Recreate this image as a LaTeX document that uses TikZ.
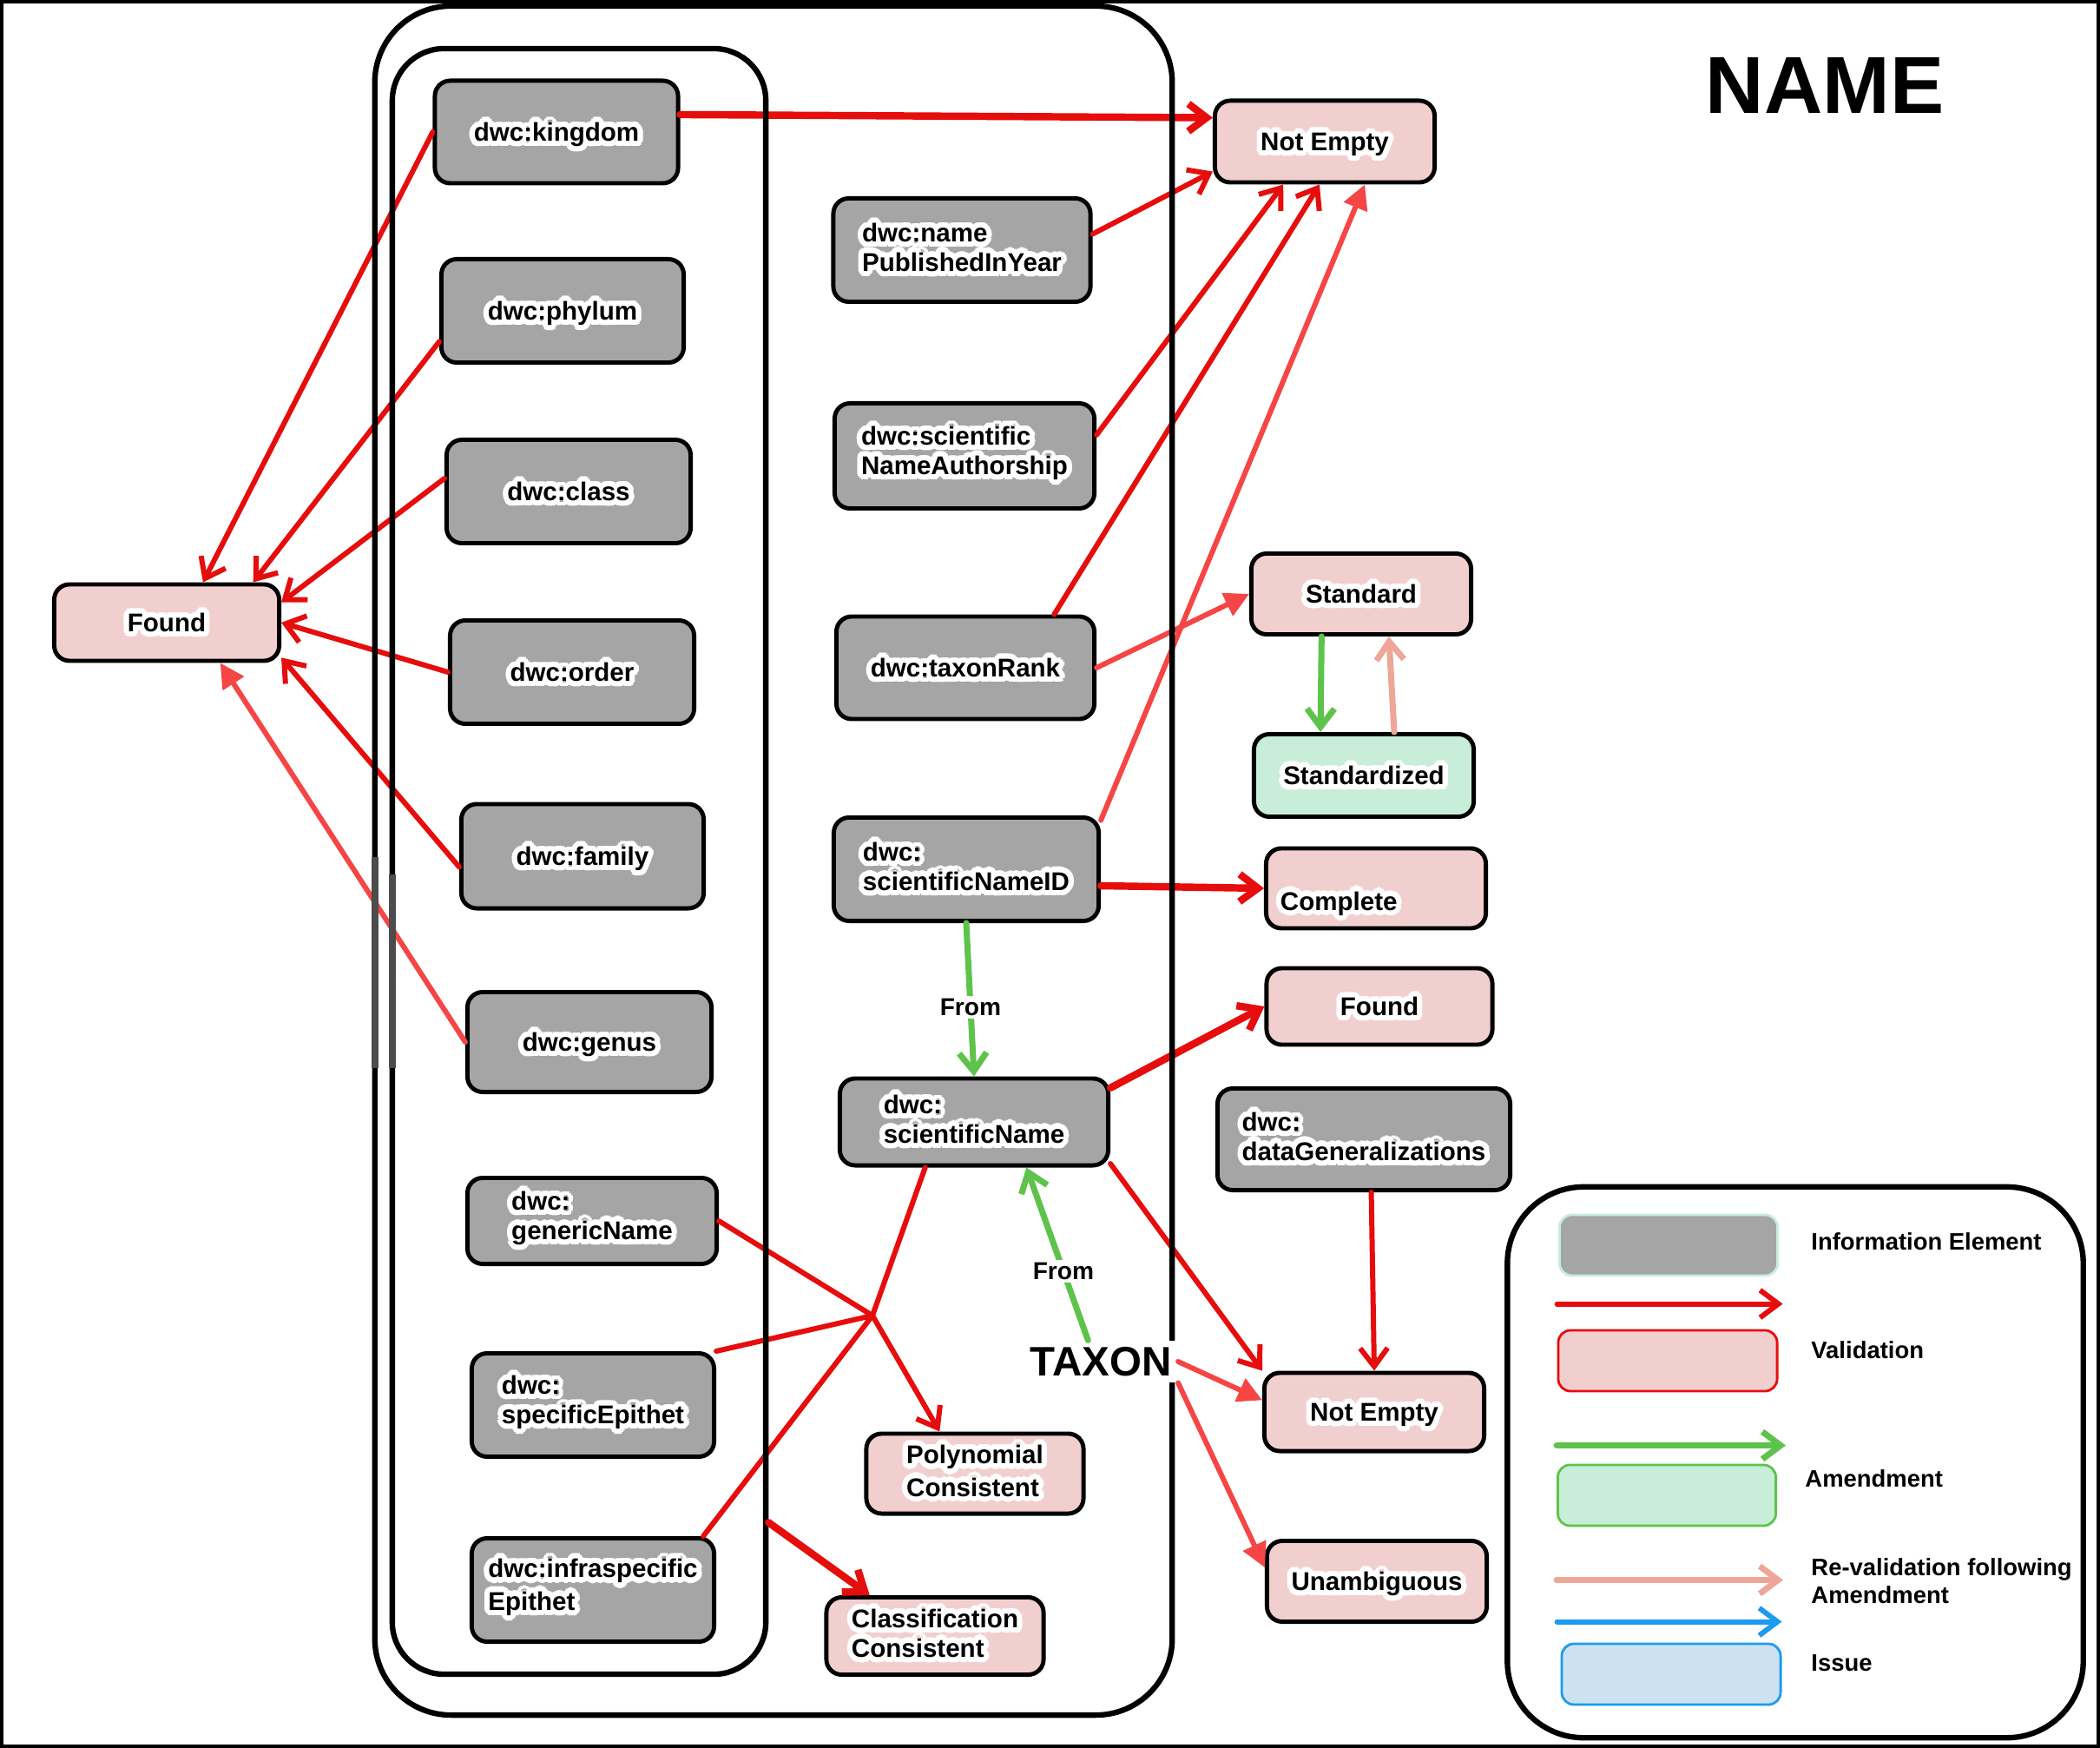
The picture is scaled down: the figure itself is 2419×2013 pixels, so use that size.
\documentclass[tikz,border=0pt]{standalone}
\usepackage{fontspec}
\setmainfont{Liberation Sans}
\usepackage{xcolor}
\definecolor{ieGrey}{HTML}{A5A5A5}
\definecolor{valPink}{HTML}{F2CFCF}
\definecolor{amdGreen}{HTML}{C8EDD9}
\definecolor{issBlue}{HTML}{CDE2F1}
\definecolor{valRed}{HTML}{E60D0D}
\definecolor{valLight}{HTML}{F54545}
\definecolor{amdLine}{HTML}{5EC34B}
\definecolor{revLine}{HTML}{EEA698}
\definecolor{issLine}{HTML}{1C9BEF}
\usepackage{contour}
\contourlength{1.8pt}
\usepackage{tikz}
\usetikzlibrary{arrows.meta}
\newcommand{\halo}[1]{\contour{white}{#1}}
\newcommand{\boxfont}{\fontsize{8.4}{9.6}\selectfont\bfseries}

\begin{document}
\begin{tikzpicture}[x=0.01cm, y=-0.01cm, >={Straight Barb[length=6pt,width=9pt]}, line cap=round,
    wh/.style 2 args={minimum width=#1cm, minimum height=#2cm},
    box/.style={draw, line width=1.4pt, rounded corners=5pt, font=\boxfont, align=left, inner sep=2pt},
    one/.style={text height=8pt, text depth=2pt},
    ie/.style={box, fill=ieGrey},
    val/.style={box, fill=valPink},
    amd/.style={box, fill=amdGreen},
    grp/.style={draw, line width=1.8pt, inner sep=0pt},
    vline/.style={->, valRed, line width=1.7pt},
    vthick/.style={vline, line width=2.4pt},
    vlight/.style={-{Triangle[length=8pt,width=8pt]}, valLight, line width=1.7pt},
    aline/.style={->, amdLine, line width=2pt},
    rline/.style={->, revLine, line width=2pt},
    iline/.style={->, issLine, line width=1.7pt},
    legbox/.style={draw, line width=0.8pt, rounded corners=4pt},
    legtxt/.style={anchor=west, font=\fontsize{7.8}{9.2}\selectfont\bfseries, align=left},
    fromlbl/.style={fill=white, text=black, inner sep=1pt, font=\fontsize{8}{9}\selectfont\bfseries}]
  \useasboundingbox (0,0) rectangle (2419,2013);
  \draw[line width=1.2pt] (2,2) rectangle (2417,2011);
  \node[font=\fontsize{26.5}{30}\selectfont\bfseries] (title) at (2102,98) {NAME};

  % ---- information elements ----
  \node[ie, one, wh={2.80}{1.18}] (kingdom) at (641,152) {\halo{dwc:kingdom}};
  \node[ie, one, wh={2.79}{1.19}] (phylum) at (648,358) {\halo{dwc:phylum}};
  \node[ie, one, wh={2.81}{1.19}] (class) at (655,566) {\halo{dwc:class}};
  \node[ie, one, wh={2.81}{1.19}] (order) at (659,774) {\halo{dwc:order}};
  \node[ie, one, wh={2.79}{1.20}] (family) at (671,986) {\halo{dwc:family}};
  \node[ie, one, wh={2.81}{1.15}] (genus) at (679,1200) {\halo{dwc:genus}};
  \node[ie, wh={2.87}{0.99}] (generic) at (682,1406) {\halo{dwc:}\\\halo{genericName}};
  \node[ie, wh={2.79}{1.19}] (specific) at (683,1618) {\halo{dwc:}\\\halo{specificEpithet}};
  \node[ie, wh={2.79}{1.19}] (infra) at (683,1831) {\halo{dwc:infraspecific}\\\halo{Epithet}};
  \node[ie, wh={2.96}{1.19}] (pubyear) at (1108,288) {\halo{dwc:name}\\\halo{PublishedInYear}};
  \node[ie, wh={2.99}{1.21}] (authorship) at (1111,525) {\halo{dwc:scientific}\\\halo{NameAuthorship}};
  \node[ie, one, wh={2.97}{1.18}] (rank) at (1112,769) {\halo{dwc:taxonRank}};
  \node[ie, wh={3.05}{1.19}] (nameid) at (1113,1001) {\halo{dwc:}\\\halo{scientificNameID}};
  \node[ie, wh={3.09}{1.00}] (sciname) at (1122,1292) {\halo{dwc:}\\\halo{scientificName}};
  \node[ie, wh={3.37}{1.17}] (datagen) at (1571,1312) {\halo{dwc:}\\\halo{dataGeneralizations}};

  % ---- validations / amendments ----
  \node[val, one, wh={2.59}{0.88}] (foundL) at (192,717) {\halo{Found}};
  \node[val, one, wh={2.53}{0.94}] (emptyA) at (1526,163) {\halo{Not Empty}};
  \node[val, one, wh={2.53}{0.93}] (standard) at (1568,684) {\halo{Standard}};
  \node[amd, one, wh={2.53}{0.95}] (standardized) at (1571,893) {\halo{Standardized}};
  \node[val, wh={2.53}{0.92}, text width=2.2cm, text height=0.6cm, text depth=0.1cm] (complete) at (1585,1023) {\halo{Complete}};
  \node[val, one, wh={2.60}{0.88}] (foundR) at (1589,1159) {\halo{Found}};
  \node[val, one, wh={2.53}{0.90}] (emptyB) at (1583,1626) {\halo{Not Empty}};
  \node[val, one, wh={2.53}{0.93}] (unambig) at (1586,1821) {\halo{Unambiguous}};
  \node[val, wh={2.50}{0.92}] (polynom) at (1123,1697) {\halo{Polynomial}\\\halo{Consistent}};
  \node[val, wh={2.50}{0.89}] (classcons) at (1077,1884) {\halo{Classification}\\\halo{Consistent}};

  % ---- validation arrows ----
  \draw[vline] (kingdom.west) -- (foundL.48);
  \draw[vline] (phylum.194) -- (foundL.25);
  \draw[vline] (class.174) -- (foundL.10);
  \draw[vline] (order.west) -- (foundL.east);
  \draw[vline] (family.185) -- (foundL.-17);
  \draw[vlight] (genus.west) -- (foundL.-37);
  \draw[vthick] (kingdom.8) -- (emptyA.168);
  \draw[vline] (pubyear.7) -- (emptyA.195);
  \draw[vline] (authorship.9) -- (emptyA.226);
  \draw[vline] (rank.31) -- (emptyA.263);
  \draw[vlight] (nameid.20) -- (emptyA.-47);
  \draw[vlight] (rank.east) -- (standard.west);
  \draw[aline] (standard.227) -- (standardized.135);
  \draw[rline] (standardized.55) -- (standard.-57);
  \draw[vthick] (nameid.-7) -- (complete.west);
  \draw[aline] (nameid.south) -- node[fromlbl, pos=.55] (from1) {From} (sciname.north);
  \draw[vthick] (sciname.14) -- (foundR.west);
  \draw[vline] (sciname.-17) -- (emptyB.north west);
  \draw[vline] (datagen.-82) -- (emptyB.north);
  % polynomial: the three epithets and the name meet
  \coordinate (join) at (1005,1515);
  \draw[vline, -] (generic.east) -- (join) (specific.north east) -- (join)
    (infra.26) -- (join) (sciname.223) -- (join);
  \draw[vline] (join) -- (polynom.130);

  % ---- groups ----
  \node[grp, rounded corners=17pt, wh={4.30}{18.71}] (rankgrp) at (667,992) {};
  \node[grp, rounded corners=25pt, wh={9.18}{19.67}] (taxgrp) at (891,991) {};
  \draw[black!70, line width=2pt, line cap=butt] (432,987) -- (432,1230) (452,1007) -- (452,1230);
  \draw[vthick] (rankgrp.-74) -- (classcons.148);
  \node[fill=white, inner sep=2pt, font=\fontsize{13.5}{15}\selectfont\bfseries] (taxon) at (1268,1568) {TAXON};
  \draw[vlight] (taxon.east) -- (emptyB.174);
  \draw[vlight] (taxon.south east) -- (unambig.173);
  \draw[aline] (taxon.121) -- node[fromlbl, pos=.4] (from2) {From} (sciname.-41);

  % ---- legend ----
  \node[grp, rounded corners=25pt, wh={6.63}{6.34}] (legend) at (2068,1684) {};
  \node[legbox, fill=ieGrey, draw=amdGreen, wh={2.51}{0.70}] (legIE) at (1922,1434) {};
  \node[legbox, fill=valPink, draw=valRed, wh={2.52}{0.70}] (legVal) at (1921,1567) {};
  \node[legbox, fill=amdGreen, draw=amdLine, wh={2.51}{0.70}] (legAmd) at (1920,1722) {};
  \node[legbox, fill=issBlue, draw=issLine, wh={2.52}{0.70}] (legIss) at (1925,1928) {};
  \draw[vline] ([yshift=0.29cm]legVal.north west) -- ([shift={(0.05cm,0.29cm)}]legVal.north east);
  \draw[aline] ([yshift=0.21cm]legAmd.north west) -- ([shift={(0.1cm,0.21cm)}]legAmd.north east);
  \draw[rline] ([yshift=-0.61cm]legAmd.south west) -- ([shift={(0.07cm,-0.61cm)}]legAmd.south east);
  \draw[iline] ([shift={(-0.04cm,0.24cm)}]legIss.north west) -- ([yshift=0.24cm]legIss.north east);
  \node[legtxt] (txtIE) at (2074,1430) {Information Element};
  \node[legtxt] (txtVal) at (2074,1555) {Validation};
  \node[legtxt] (txtAmd) at (2067,1703) {Amendment};
  \node[legtxt] (txtRev) at (2074,1821) {Re-validation following\\Amendment};
  \node[legtxt] (txtIss) at (2074,1915) {Issue};
\end{tikzpicture}
\end{document}
